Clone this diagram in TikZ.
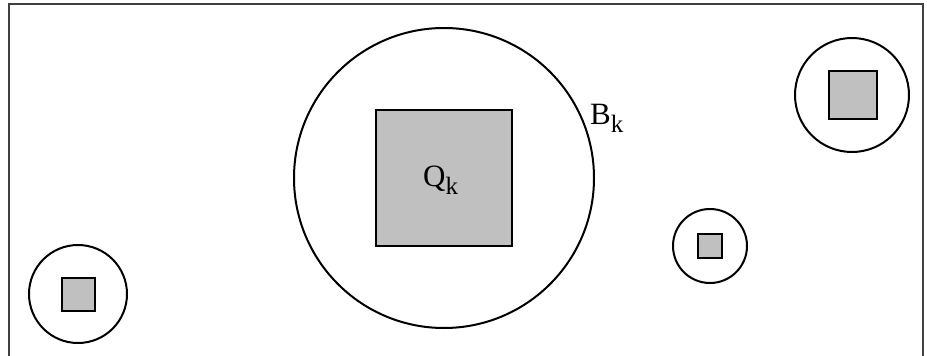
\documentclass[tikz,border=0pt]{standalone}
\usepackage{fontspec}
\setmainfont{Liberation Serif}
\definecolor{qgray}{HTML}{C0C0C0}
\tikzset{
  ball/.style={draw=black, line width=2pt},
  cube/.style={draw=black, fill=qgray, line width=1.6pt},
  frameline/.style={draw=black!75, line width=1.2pt},
  lbl/.style={inner sep=0pt, font=\fontsize{31}{31}\selectfont},
}
\newcommand{\subk}{\raisebox{-8pt}{\fontsize{25}{25}\selectfont k}}
\begin{document}
\begin{tikzpicture}[x=1pt, y=-1pt]
\useasboundingbox (0,0) rectangle (927,356);
% frame (open at the bottom)
\draw[frameline] (9,360) -- (9,4) -- (923,4) -- (923,360);
% big ball and cube
\draw[ball] (444,178) circle (150);
\draw[cube] (376,110) rectangle (512,246);
\node[lbl, anchor=base west] (qk) at (423,186) {Q\subk};
\node[lbl, anchor=base west] (bk) at (590,124) {B\subk};
% top right
\draw[ball] (852,95) circle (57);
\draw[cube] (829,71) rectangle (877,119);
% middle right
\draw[ball] (710,246) circle (37);
\draw[cube] (698,234) rectangle (722,258);
% bottom left
\draw[ball] (78,294) circle (49);
\draw[cube] (62,278) rectangle (95,311);
\end{tikzpicture}
\end{document}
